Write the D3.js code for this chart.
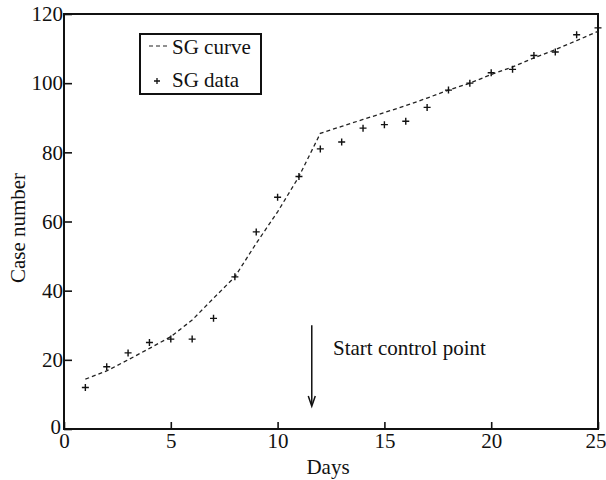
<!DOCTYPE html>
<html>
<head>
<meta charset="utf-8">
<script src="https://cdn.jsdelivr.net/npm/d3@7/dist/d3.min.js"></script>
<style>
  body { margin: 0; background: #fff; }
  svg { display: block; }
  text { font-family: "Liberation Serif", "DejaVu Serif", serif; fill: #111; }
</style>
</head>
<body>
<svg id="chart" width="606" height="480"></svg>
<script>
// days on the x axis
var days = d3.range(1, 26);
// reported cases (the + marks)
var sgData = [12, 18, 22, 25, 26, 26, 32, 44, 57, 67, 73, 81, 83,
              87, 88, 89, 93, 98, 100, 103, 104, 108, 109, 114, 116];
// fitted SG curve, one value per day
var sgCurve = [14.4, 16.8, 20, 23.3, 26.7, 31.5, 37.8, 44, 53.7, 62.8, 73, 85.5, 87.5,
               89.5, 91.5, 93.5, 95.7, 98, 100, 102.5, 104.7, 107.3, 109.7, 112.3, 115];
var xTicks = [0, 5, 10, 15, 20, 25];
var yTicks = [0, 20, 40, 60, 80, 100, 120];
var legendLabels = ["SG curve", "SG data"];
var controlDay = 11.6;

var svg = d3.select("#chart");
var plotLeft = 64, plotRight = 598, plotTop = 14, plotBottom = 429;
var fontSize = 21;

var x = d3.scaleLinear().domain([0, 25]).range([plotLeft, plotRight]);
var y = d3.scaleLinear().domain([0, 120]).range([plotBottom, plotTop]);

// frame
svg.append("rect")
  .attr("x", plotLeft).attr("y", plotTop)
  .attr("width", plotRight - plotLeft).attr("height", plotBottom - plotTop)
  .attr("fill", "none").attr("stroke", "#111").attr("stroke-width", 2);

// axes, ticks pointing inward
var xAxis = svg.append("g")
  .attr("transform", "translate(0," + plotBottom + ")")
  .call(d3.axisBottom(x).tickValues(xTicks).tickSize(-7).tickPadding(4));
var yAxis = svg.append("g")
  .attr("transform", "translate(" + plotLeft + ",0)")
  .call(d3.axisLeft(y).tickValues(yTicks).tickSize(-8).tickPadding(1));

[xAxis, yAxis].forEach(function(g){
  g.select(".domain").remove();
  g.selectAll("line").attr("stroke", "#111").attr("stroke-width", 1.6);
  g.selectAll("text").attr("font-size", fontSize)
    .attr("font-family", "Liberation Serif, serif").attr("fill", "#111");
});
// last x label sits against the right edge
xAxis.selectAll(".tick text").filter(function(d){ return d === 25; })
  .attr("text-anchor", "end").attr("dx", 8);
// keep the two zeros apart in the corner
yAxis.selectAll(".tick text").filter(function(d){ return d === 0; })
  .attr("dy", "0.2em").attr("dx", -2);

// axis titles
svg.append("text")
  .attr("x", (plotLeft + plotRight) / 2 - 3).attr("y", 474)
  .attr("text-anchor", "middle").attr("font-size", fontSize)
  .text("Days");
svg.append("text")
  .attr("transform", "translate(25," + 228 + ") rotate(-90)")
  .attr("text-anchor", "middle").attr("font-size", fontSize)
  .text("Case number");

// fitted curve
var line = d3.line()
  .x(function(d, i){ return x(days[i]); })
  .y(function(d){ return y(d); });

svg.append("path")
  .datum(sgCurve)
  .attr("d", line)
  .attr("fill", "none")
  .attr("stroke", "#222")
  .attr("stroke-width", 1.3)
  .attr("stroke-dasharray", "4,3");

// data marks
function plusPath(cx, cy, r){
  return "M" + (cx - r) + "," + cy + "H" + (cx + r) + "M" + cx + "," + (cy - r) + "V" + (cy + r);
}
svg.append("g").selectAll("path")
  .data(sgData)
  .join("path")
  .attr("d", function(d, i){ return plusPath(x(days[i]), y(d), 3.5); })
  .attr("stroke", "#111")
  .attr("stroke-width", 1.4);

// control point arrow
var ax = x(controlDay);
svg.append("line")
  .attr("x1", ax).attr("x2", ax)
  .attr("y1", y(30)).attr("y2", y(7.2))
  .attr("stroke", "#111").attr("stroke-width", 1.5);
svg.append("path")
  .attr("d", "M" + (ax - 3.5) + "," + (y(7.2) - 8) + "L" + ax + "," + y(6.6) + "L" + (ax + 3.5) + "," + (y(7.2) - 8))
  .attr("fill", "none").attr("stroke", "#111").attr("stroke-width", 1.5);
svg.append("text")
  .attr("x", 333).attr("y", y(21.4))
  .attr("font-size", fontSize)
  .text("Start control point");

// legend
var lg = svg.append("g");
lg.append("rect")
  .attr("x", 140).attr("y", 34).attr("width", 121).attr("height", 60)
  .attr("fill", "#fff").attr("stroke", "#111").attr("stroke-width", 2);
lg.append("line")
  .attr("x1", 149).attr("x2", 168).attr("y1", 46).attr("y2", 46)
  .attr("stroke", "#222").attr("stroke-width", 1.2).attr("stroke-dasharray", "4,3");
lg.append("path")
  .attr("d", plusPath(157, 81, 3))
  .attr("stroke", "#111").attr("stroke-width", 1.3);
lg.selectAll("text.lab")
  .data(legendLabels)
  .join("text")
  .attr("class", "lab")
  .attr("x", 172)
  .attr("y", function(d, i){ return 54 + i * 33; })
  .attr("font-size", fontSize)
  .text(function(d){ return d; });
</script>
</body>
</html>
